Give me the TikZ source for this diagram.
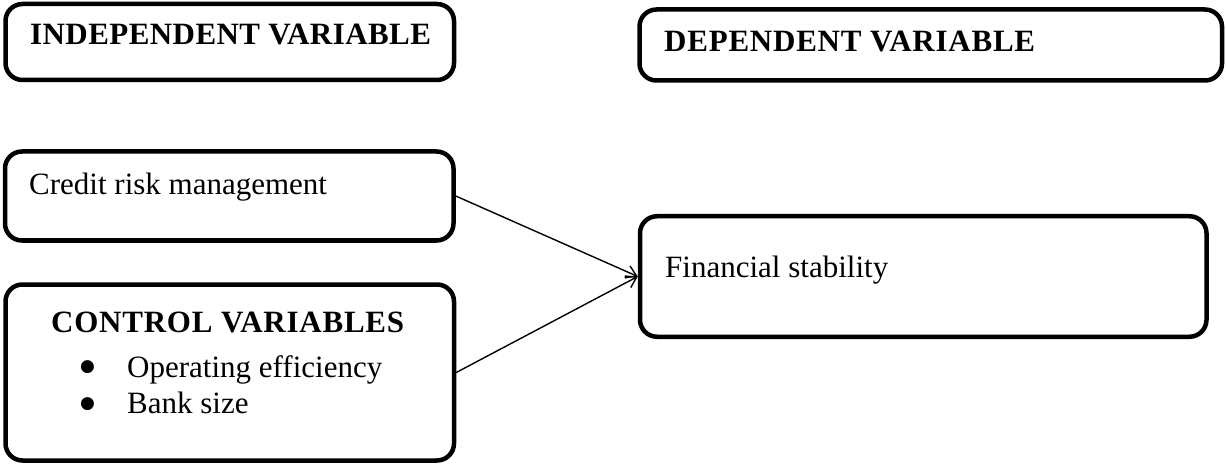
\documentclass[tikz,border=0pt]{standalone}
\usepackage{fontspec}
\setmainfont{Liberation Serif}
\newfontfamily\dejavu{DejaVu Sans}
\usetikzlibrary{arrows.meta}
\tikzset{
  box/.style={draw=black, line width=4.5pt, rounded corners=17pt, inner sep=0pt, fill=white},
  lbl/.style={anchor=base west, inner sep=0pt, font=\fontsize{31}{36}\selectfont},
  hdr/.style={anchor=base west, inner sep=0pt, font=\fontsize{31}{36}\selectfont\bfseries\addfontfeature{LetterSpace=2.5}},
  hdrtight/.style={anchor=base west, inner sep=0pt, font=\fontsize{31}{36}\selectfont\bfseries\addfontfeature{LetterSpace=1.4}},
  bul/.style={anchor=center, inner sep=0pt, font=\dejavu\fontsize{17}{17}\selectfont},
  conn/.style={line width=1.4pt, -{Straight Barb[length=10pt,width=13pt,line width=1.4pt]}}
}
\begin{document}
\begin{tikzpicture}[x=1pt,y=-1pt]
\useasboundingbox (0,0) rectangle (1226,465);
% boxes
\node[box, minimum width=448.5pt, minimum height=76pt] (indep) at (229.75,42) {};
\node[box, minimum width=582.5pt, minimum height=71pt] (dep) at (930.75,45) {};
\node[box, minimum width=448.5pt, minimum height=89pt] (credit) at (229.25,196) {};
\node[box, minimum width=448.5pt, minimum height=176pt] (control) at (229.75,372.5) {};
\node[box, minimum width=566.5pt, minimum height=120.5pt] (fin) at (923.25,276.5) {};
% texts
\node[hdrtight] (tindep) at (30,45) {INDEPENDENT VARIABLE};
\node[hdr] (tdep) at (664,52) {DEPENDENT VARIABLE};
\node[lbl] (tcredit) at (29,195) {Credit risk management};
\node[hdr] (tcontrol) at (51,332) {CONTROL VARIABLES};
\node[bul] (b1) at (87.5,367.5) {●};
\node[lbl] (topeff) at (127,377) {Operating efficiency};
\node[bul] (b2) at (87.5,404) {●};
\node[lbl] (tbank) at (127,413) {Bank size};
\node[lbl] (tfin) at (665,277) {Financial stability};
% connectors
\draw[conn] (credit.east) -- (fin.west);
\draw[conn] (control.east) -- (fin.west);
\end{tikzpicture}
\end{document}
